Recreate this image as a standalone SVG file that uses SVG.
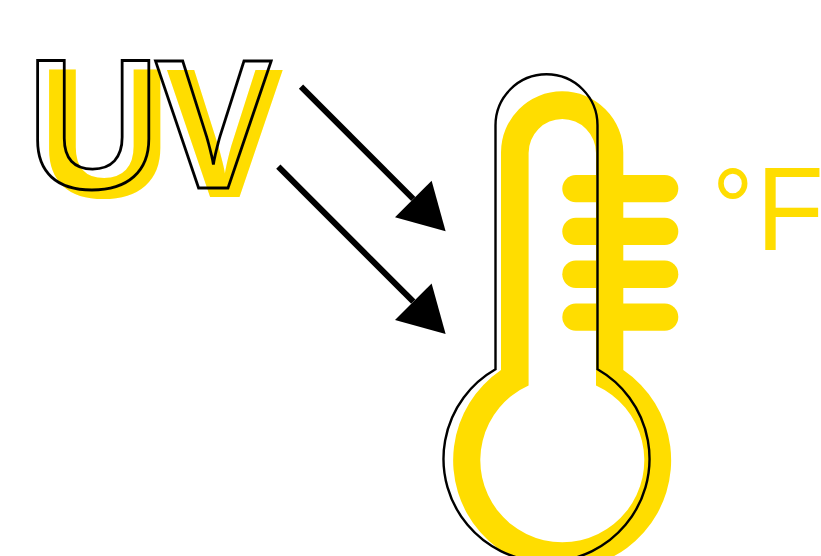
<svg xmlns="http://www.w3.org/2000/svg" width="821" height="556" viewBox="0 0 821 556">
  <style>
    .uv { font-weight: 700; font-size: 185px; font-family: "Liberation Sans", Arial, sans-serif; }
    .v { font-family: "Open Sans", "Liberation Sans", sans-serif; font-weight: 750; font-size: 178px; }
    .y { fill: #ffdd00; }
    .o { fill: none; stroke: #000; stroke-width: 2.4; }
    .t { stroke-width: 2.8; }
    .arrow { fill: none; stroke: #000; stroke-width: 6; marker-end: url(#head); }
  </style>
  <defs>
    <marker id="head" markerUnits="userSpaceOnUse" markerWidth="46" markerHeight="52" refX="0" refY="25.9" orient="auto" overflow="visible">
      <path d="M0 0L45.7 25.9L0 51.8Z" fill="#000"/>
    </marker>
  </defs>
  <rect width="821" height="556" fill="#fff"/>
  <g id="uv-label">
    <text class="uv y" x="38" y="196.7">U<tspan class="v" x="167">V</tspan></text>
    <text class="uv o t" x="26.5" y="188">U<tspan class="v" x="155.5">V</tspan></text>
  </g>
  <g id="thermometer">
    <rect class="y" x="562.3" y="175" width="116" height="27.3" rx="13.6"/>
    <rect class="y" x="562.3" y="217.8" width="116" height="27.3" rx="13.6"/>
    <rect class="y" x="562.3" y="260.6" width="116" height="27.3" rx="13.6"/>
    <rect class="y" x="562.3" y="303.4" width="116" height="27.3" rx="13.6"/>
    <path class="y" fill-rule="evenodd" d="M501 370V152.5A61 61 0 0 1 623.3 152.5V370A109 109 0 1 1 501 370ZM528.6 385.5A82 82 0 1 0 596 385.5V153A33.7 34 0 0 0 528.6 153Z"/>
    <path class="o" d="M495.5 369.3V125.3A51 51 0 0 1 597.5 125.3V369.3A103 103 0 1 1 495.5 369.3Z"/>
  </g>
  <g id="fahrenheit">
    <text transform="translate(712 0) scale(.93 1)" font-family="'Liberation Sans', Arial, sans-serif" font-size="119" fill="#ffdd00"><tspan x="0" y="246" font-size="112">°</tspan><tspan x="47.5" y="250">F</tspan></text>
  </g>
  <g id="connectors">
    <path class="arrow" d="M301 86.7L413.3 199"/>
    <path class="arrow" d="M278.3 166.7L413.3 301.7"/>
  </g>
</svg>
